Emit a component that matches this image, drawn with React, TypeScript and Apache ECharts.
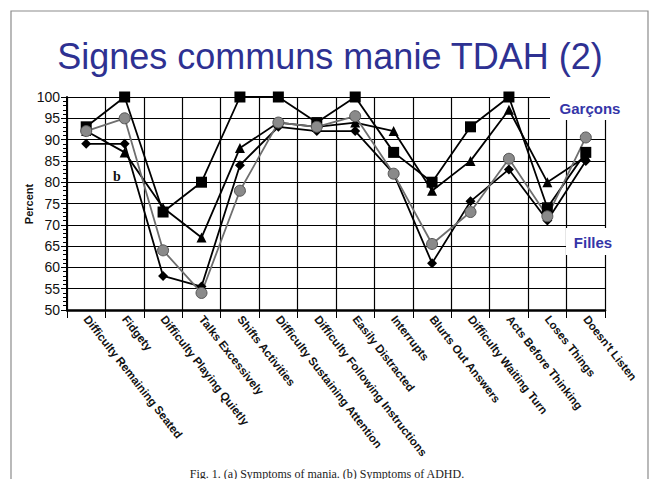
import React, { useEffect, useRef } from "react";
import * as echarts from "echarts";

const categories = [
  "Difficulty Remaining Seated",
  "Fidgety",
  "Difficulty Playing Quietly",
  "Talks Excessively",
  "Shifts Activities",
  "Difficulty Sustaining Attention",
  "Difficulty Following Instructions",
  "Easily Distracted",
  "Interrupts",
  "Blurts Out Answers",
  "Difficulty Waiting Turn",
  "Acts Before Thinking",
  "Loses Things",
  "Doesn't Listen",
];

const squares = [93, 100, 73, 80, 100, 100, 94, 100, 87, 80, 93, 100, 74, 87];
const triangles = [92, 87, 74, 67, 88, 94, 93, 94, 92, 78, 85, 97, 80, 86];
const diamonds = [89, 89, 58, 55.5, 84, 93, 92, 92, 82, 61, 75.5, 83, 71, 85];
const circles = [92, 95, 64, 54, 78, 94, 93, 95.5, 82, 65.5, 73, 85.5, 72, 90.5];

const yTicks = { min: 50, max: 100, interval: 5 };

const TITLE = "Signes communs manie TDAH (2)";
const CAPTION = "Fig. 1. (a) Symptoms of mania. (b) Symptoms of ADHD.";
const Y_NAME = "Percent";

export default function App() {
  const ref = useRef<HTMLDivElement>(null);
  useEffect(() => {
    if (!ref.current) return;
    const chart = echarts.init(ref.current, undefined, { renderer: "svg" });
    const lineSeries = (name: string, data: number[], symbol: string, size: number, color: string, lineColor: string, border?: string) => ({
      name,
      type: "line",
      data,
      symbol,
      symbolSize: size,
      itemStyle: { color, borderColor: border || color, borderWidth: border ? 1 : 0 },
      lineStyle: { color: lineColor, width: 1.8 },
      z: 3,
    });
    chart.setOption({
      animation: false,
      backgroundColor: "#ffffff",
      grid: { left: 67, right: 49, top: 97, bottom: 169, containLabel: false },
      xAxis: {
        type: "category",
        data: categories,
        boundaryGap: true,
        axisLine: { lineStyle: { color: "#000", width: 2.5 } },
        axisTick: { show: true, length: 8, interval: 0, lineStyle: { color: "#000", width: 1 } },
        splitLine: { show: true, interval: 0, lineStyle: { color: "#000", width: 1.2 } },
        axisLabel: {
          interval: 0,
          rotate: -52,
          margin: 7,
          fontSize: 11.5,
          fontWeight: "bold",
          fontFamily: "Liberation Sans, Arial, sans-serif",
          color: "#111",
        },
      },
      yAxis: {
        type: "value",
        min: yTicks.min,
        max: yTicks.max,
        interval: yTicks.interval,
        axisLine: { show: true, lineStyle: { color: "#000", width: 2 } },
        axisTick: { show: true, length: 6, lineStyle: { color: "#000" } },
        minorTick: { show: true, splitNumber: 5, length: 4, lineStyle: { color: "#000" } },
        splitLine: { show: true, lineStyle: { color: "#000", width: 1.2 } },
        axisLabel: {
          margin: 7,
          fontSize: 14,
          fontFamily: "Liberation Sans Narrow, Arial Narrow, Liberation Sans, sans-serif",
          color: "#111",
        },
      },
      series: [
        lineSeries("a-squares", squares, "rect", 11, "#000", "#000"),
        lineSeries("a-triangles", triangles, "triangle", 10, "#000", "#000"),
        lineSeries("b-diamonds", diamonds, "diamond", 10, "#000", "#000"),
        lineSeries("b-circles", circles, "circle", 11, "#8a8a8a", "#6e6e6e", "#555"),
      ],
      graphic: [
        {
          type: "rect",
          z: 0,
          silent: true,
          shape: { x: 11, y: 11, width: 637, height: 480 },
          style: { fill: "none", stroke: "#8c8c8c", lineWidth: 1.2 },
        },
        {
          type: "text",
          z: 10,
          x: 330,
          y: 56,
          style: {
            text: TITLE,
            fill: "#2e3192",
            font: "36px 'Liberation Sans', Arial, sans-serif",
            textAlign: "center",
            textVerticalAlign: "middle",
          },
        },
        {
          type: "text",
          z: 10,
          x: 29,
          y: 204,
          rotation: Math.PI / 2,
          style: {
            text: Y_NAME,
            fill: "#111",
            font: "bold 11px 'Liberation Sans', Arial, sans-serif",
            textAlign: "center",
            textVerticalAlign: "middle",
          },
        },
        {
          type: "rect",
          z: 50,
          silent: true,
          shape: { x: 550, y: 88, width: 82, height: 32 },
          style: { fill: "#ffffff" },
        },
        {
          type: "text",
          z: 60,
          x: 590,
          y: 108,
          style: {
            text: "Garçons",
            fill: "#3535a8",
            font: "bold 15px 'Liberation Sans', Arial, sans-serif",
            textAlign: "center",
            textVerticalAlign: "middle",
          },
        },
        {
          type: "rect",
          z: 50,
          silent: true,
          shape: { x: 566, y: 228, width: 62, height: 27 },
          style: { fill: "#ffffff" },
        },
        {
          type: "text",
          z: 60,
          x: 593,
          y: 242,
          style: {
            text: "Filles",
            fill: "#3535a8",
            font: "bold 15px 'Liberation Sans', Arial, sans-serif",
            textAlign: "center",
            textVerticalAlign: "middle",
          },
        },
        {
          type: "text",
          z: 60,
          x: 117,
          y: 176,
          style: {
            text: "b",
            fill: "#111",
            font: "bold 14px 'Liberation Serif', 'Times New Roman', serif",
            textAlign: "center",
            textVerticalAlign: "middle",
          },
        },
        {
          type: "text",
          z: 60,
          x: 327,
          y: 468,
          style: {
            text: CAPTION,
            fill: "#222",
            font: "12px 'Liberation Serif', 'Times New Roman', serif",
            textAlign: "center",
            textVerticalAlign: "top",
          },
        },
      ],
    });
    return () => chart.dispose();
  }, []);
  return (
    <div
      ref={ref}
      style={{ position: "fixed", left: 0, top: 0, width: 654, height: 479, background: "#fff" }}
    />
  );
}
